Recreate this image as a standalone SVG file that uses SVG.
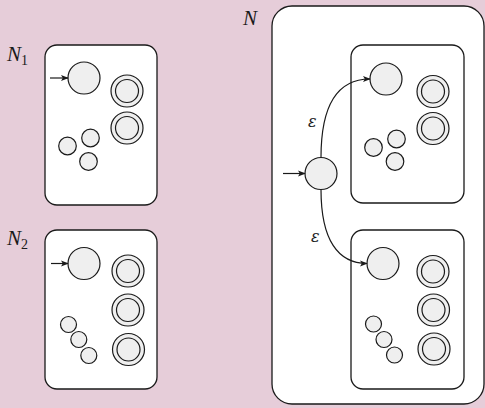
<svg xmlns="http://www.w3.org/2000/svg" width="485" height="408" viewBox="0 0 485 408">
<defs>
<style>
.box{fill:#ffffff;stroke:#1a1a1a;stroke-width:1.3}
.st{fill:#efefef;stroke:#1a1a1a;stroke-width:1.2}
.in{fill:none;stroke:#1a1a1a;stroke-width:1.2}
.edge{fill:none;stroke:#1a1a1a;stroke-width:1.2}
.lbl{font-family:"Liberation Serif","DejaVu Serif",serif;font-style:italic;font-size:21px;fill:#1a1a1a}
.sub{font-family:"Liberation Serif","DejaVu Serif",serif;font-size:14px;fill:#1a1a1a}
.eps{font-family:"DejaVu Serif","Liberation Serif",serif;font-style:italic;font-size:16px;fill:#1a1a1a}
</style>
<marker id="arr" viewBox="0 0 10 10" refX="9" refY="5" markerWidth="8" markerHeight="8" markerUnits="userSpaceOnUse" orient="auto">
<path d="M0,1 L10,5 L0,9 L2.5,5 Z" fill="#1a1a1a"/>
</marker>
</defs>
<rect width="485" height="408" fill="#e6cdd9"/>

<g id="N1">
<rect class="box" x="45" y="45" width="112" height="160" rx="12"/>
<text class="lbl" x="7" y="61">N<tspan class="sub" dy="4" font-style="normal">1</tspan></text>
<circle class="st" cx="84" cy="78" r="16"/>
<circle class="st" cx="127" cy="91" r="16"/><circle class="in" cx="127" cy="91" r="11.5"/>
<circle class="st" cx="127" cy="128" r="16"/><circle class="in" cx="127" cy="128" r="11.5"/>
<circle class="st" cx="67.5" cy="146" r="8.8"/>
<circle class="st" cx="90.5" cy="138" r="8.8"/>
<circle class="st" cx="88.5" cy="161.5" r="8.8"/>
</g>

<g id="N2">
<rect class="box" x="45" y="230" width="112" height="159" rx="12"/>
<text class="lbl" x="7" y="245">N<tspan class="sub" dy="4" font-style="normal">2</tspan></text>
<circle class="st" cx="84" cy="263.5" r="16"/>
<circle class="st" cx="128" cy="271" r="16"/><circle class="in" cx="128" cy="271" r="11.5"/>
<circle class="st" cx="128" cy="310" r="16"/><circle class="in" cx="128" cy="310" r="11.5"/>
<circle class="st" cx="128.5" cy="349.5" r="16"/><circle class="in" cx="128.5" cy="349.5" r="11.5"/>
<circle class="st" cx="68.5" cy="324.5" r="8"/>
<circle class="st" cx="78.8" cy="339.5" r="8"/>
<circle class="st" cx="88.8" cy="355.5" r="8"/>
</g>

<g id="N">
<rect class="box" x="272" y="6" width="212" height="398" rx="20"/>
<text class="lbl" x="243" y="25">N</text>
</g>

<g id="N1copy">
<rect class="box" x="351" y="45" width="113" height="158" rx="12"/>
<circle class="st" cx="386" cy="79" r="16"/>
<circle class="st" cx="433" cy="91.5" r="16"/><circle class="in" cx="433" cy="91.5" r="11.5"/>
<circle class="st" cx="433" cy="128.5" r="16"/><circle class="in" cx="433" cy="128.5" r="11.5"/>
<circle class="st" cx="373.5" cy="147.5" r="8.8"/>
<circle class="st" cx="396.5" cy="139" r="8.8"/>
<circle class="st" cx="395" cy="161.5" r="8.8"/>
</g>

<g id="N2copy">
<rect class="box" x="351" y="230" width="113" height="159" rx="12"/>
<circle class="st" cx="383" cy="263.5" r="16"/>
<circle class="st" cx="433" cy="271.5" r="16"/><circle class="in" cx="433" cy="271.5" r="11.5"/>
<circle class="st" cx="433.5" cy="310" r="16"/><circle class="in" cx="433.5" cy="310" r="11.5"/>
<circle class="st" cx="434" cy="349" r="16"/><circle class="in" cx="434" cy="349" r="11.5"/>
<circle class="st" cx="373.5" cy="324" r="8"/>
<circle class="st" cx="384" cy="339.5" r="8"/>
<circle class="st" cx="394.5" cy="355" r="8"/>
</g>

<g id="start">
<circle class="st" cx="321" cy="173.5" r="16"/>
</g>

<g id="connectors">
<line class="edge" x1="50" y1="78" x2="68" y2="78" marker-end="url(#arr)"/>
<line class="edge" x1="51" y1="263.5" x2="68" y2="263.5" marker-end="url(#arr)"/>
<line class="edge" x1="283" y1="173.5" x2="305" y2="173.5" marker-end="url(#arr)"/>
<path class="edge" d="M321,157.5 C321,110 335,79 370,79" marker-end="url(#arr)"/>
<path class="edge" d="M321,189.5 C321,240 338,263.5 367,263.5" marker-end="url(#arr)"/>
<text class="eps" x="308" y="127">ε</text>
<text class="eps" x="311" y="242">ε</text>
</g>
</svg>
